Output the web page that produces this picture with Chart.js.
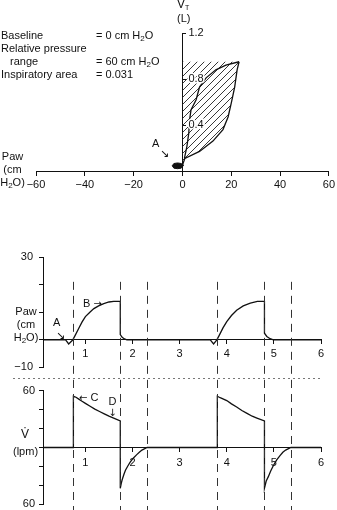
<!DOCTYPE html>
<html>
<head>
<meta charset="utf-8">
<script src="https://cdn.jsdelivr.net/npm/chart.js@4.4.1/dist/chart.umd.min.js"></script>
<style>
  html, body { margin: 0; padding: 0; background: #fff; }
  #fig { position: relative; width: 337px; height: 510px; overflow: hidden;
         font-family: "Liberation Sans", Arial, sans-serif; font-size: 11px; color: #111; }
  #fig canvas { position: absolute; left: 0; }
  .t { position: absolute; white-space: nowrap; line-height: 12px; }
  .t sub { font-size: 8px; vertical-align: -2px; line-height: 0; }
  .stack { text-align: center; line-height: 13px; }
  .ar { font-family: "DejaVu Sans", sans-serif; }
</style>
</head>
<body>
<div id="fig">
  <canvas id="loop" width="337" height="200" style="top:0"></canvas>
  <canvas id="paw" width="337" height="140" style="top:240px"></canvas>
  <canvas id="flow" width="337" height="135" style="top:380px"></canvas>

  <div class="t" style="left:1px;top:29px">Baseline</div>
  <div class="t" style="left:96px;top:29px">= 0 cm H<sub>2</sub>O</div>
  <div class="t" style="left:1px;top:42px">Relative pressure</div>
  <div class="t" style="left:10px;top:55px">range</div>
  <div class="t" style="left:96px;top:55px">= 60 cm H<sub>2</sub>O</div>
  <div class="t" style="left:1px;top:68px">Inspiratory area</div>
  <div class="t" style="left:96px;top:68px">= 0.031</div>

  <div class="t" style="left:177px;top:-2px;font-size:12px">V<sub style="font-size:7px">T</sub></div>
  <div class="t" style="left:177px;top:12px">(L)</div>
  <div class="t stack" style="left:0;top:150px;width:25px">Paw<br>(cm<br>H<sub>2</sub>O)</div>
  <div class="t" style="left:152px;top:137px">A</div>
  <div class="t ar" style="left:160px;top:148px;font-size:11px">&#8600;</div>

  <div class="t stack" style="left:12px;top:305px;width:28px">Paw<br>(cm<br>H<sub>2</sub>O)</div>
  <div class="t" style="left:53px;top:316px">A</div>
  <div class="t ar" style="left:56px;top:330px;font-size:11px">&#8600;</div>
  <div class="t" style="left:83px;top:297px">B <span class="ar" style="font-size:10px">&#8594;</span></div>

  <div class="t" style="left:79px;top:391px"><span class="ar" style="font-size:10px">&#8592;</span> C</div>
  <div class="t stack" style="left:105px;top:396px;width:15px;line-height:11px">D<br><span class="ar" style="font-size:10px">&#8595;</span></div>
  <div class="t" style="left:21px;top:428px;font-size:12px">V&#775;</div>
  <div class="t" style="left:13px;top:445px">(lpm)</div>
</div>

<script>
// P-V loop (top panel)
const pressureTicks = [-60, -40, -20, 0, 20, 40, 60];
const volumeTicks = [0.4, 0.8, 1.2];
const inspPressure = [0, 1, 7, 12.5, 16.6, 18.7, 20, 21.4, 22.4, 23.2];
const inspVolume = [0.05, 0.11, 0.17, 0.26, 0.36, 0.47, 0.59, 0.73, 0.88, 0.95];
const expPressure = [23.2, 17.8, 13.7, 9.7, 7, 5.6, 3.5, 2.9, 2.6, 1.8, 0.8];
const expVolume = [0.95, 0.92, 0.88, 0.81, 0.73, 0.62, 0.53, 0.44, 0.33, 0.21, 0.11];
// small loop at A (upper and lower edge)
const blobPressure = [-4.2, -3.5, -2, -0.5, 0.5];
const blobUpper = [0.045, 0.065, 0.07, 0.065, 0.05];
const blobLower = [0.045, 0.025, 0.02, 0.025, 0.05];

// time traces (bottom panels)
const timeTicks = [1, 2, 3, 4, 5, 6];
const markerTimes = [0.745, 1.74, 2.31, 3.80, 4.80, 5.36];
const pawTicks = [-10, 0, 10, 20, 30];
const pawTime = [0.1, 0.58, 0.645, 0.73, 0.78, 0.86, 0.93, 1.0, 1.1, 1.18, 1.28, 1.39, 1.5, 1.6, 1.74, 1.74, 1.78, 1.83, 1.88,
                 3.65, 3.72, 3.79, 3.84, 3.92, 4.0, 4.1, 4.21, 4.35, 4.5, 4.65, 4.80, 4.80, 4.85, 4.92, 4.99, 6.0];
const pawValue = [0, 0, -1.5, -0.1, 1.5, 4.2, 6.5, 8.4, 10.1, 11.3, 12.3, 13.1, 13.7, 13.9, 13.9, 1.9, 0.9, 0.3, 0,
                  0, -1.5, 0, 1.6, 4.3, 6.6, 8.8, 10.7, 12.3, 13.3, 13.9, 13.9, 2.4, 1.2, 0.4, 0, 0];
const flowTicks = [-60, -40, -20, 0, 20, 40, 60];
const flowTime = [0.1, 0.745, 0.745, 0.8, 0.86, 0.92, 1.0, 1.1, 1.2, 1.3, 1.4, 1.5, 1.6, 1.74, 1.74, 1.76, 1.78, 1.82, 1.85, 1.9,
                  1.95, 2.02, 2.09, 2.15, 2.2, 2.31, 3.80, 3.80, 3.86, 4.0, 4.1, 4.21, 4.32, 4.43, 4.54, 4.64, 4.80, 4.80, 4.84, 4.88,
                  4.93, 4.99, 5.06, 5.13, 5.19, 5.25, 5.36, 6.0];
const flowValue = [0, 0, 54, 53, 51, 49, 46.5, 43.5, 40.5, 38, 35.5, 33, 31, 28, -43, -38, -34, -28, -24, -19.5,
                   -15.5, -11, -7.5, -4.8, -2.7, 0, 0, 54, 52.5, 49.5, 46, 42.7, 39, 36, 33, 31, 28, -43, -35, -31,
                   -25, -19, -13, -8.5, -5, -2.7, 0, 0];

const ink = '#111';
const tickFont = { family: '"Liberation Sans", Arial, sans-serif', size: 11 };

function pts(xs, ys) {
  return xs.map((x, i) => ({ x: x, y: ys[i] }));
}
function minus(v) {
  return v < 0 ? '\u2212' + Math.abs(v) : String(v);
}
function fixedTicks(values) {
  return scale => { scale.ticks = values.map(v => ({ value: v })); };
}

function makeHatch() {
  const c = document.createElement('canvas');
  c.width = 7; c.height = 7;
  const g = c.getContext('2d');
  g.strokeStyle = '#222';
  g.lineWidth = 0.9;
  g.beginPath();
  g.moveTo(0, 7); g.lineTo(7, 0);
  g.moveTo(-1, 1); g.lineTo(1, -1);
  g.moveTo(6, 8); g.lineTo(8, 6);
  g.stroke();
  return g.createPattern(c, 'repeat');
}

// hatched area: from the top of the axis, down the axis, then along the inspiratory limb
const topVolume = inspVolume[inspVolume.length - 1];
const hatchPoints = [{ x: 0, y: topVolume }].concat(pts(inspPressure, inspVolume));

// dashed event lines + dotted separator
const markerLines = {
  id: 'markerLines',
  afterDatasetsDraw(chart, args, opts) {
    const ctx = chart.ctx;
    const x = chart.scales.x;
    const top = opts.from != null ? chart.scales.y.getPixelForValue(opts.from) : 0;
    ctx.save();
    ctx.strokeStyle = '#333';
    ctx.lineWidth = 1;
    ctx.setLineDash([8, 6]);
    markerTimes.forEach(t => {
      const px = Math.round(x.getPixelForValue(t)) + 0.5;
      ctx.beginPath();
      ctx.moveTo(px, top);
      ctx.lineTo(px, chart.height);
      ctx.stroke();
    });
    if (opts.separatorY != null) {
      ctx.strokeStyle = '#777';
      ctx.setLineDash([2, 3]);
      ctx.beginPath();
      ctx.moveTo(13, opts.separatorY + 0.5);
      ctx.lineTo(x.getPixelForValue(6), opts.separatorY + 0.5);
      ctx.stroke();
    }
    ctx.restore();
  }
};

// P-V loop
new Chart(document.getElementById('loop'), {
  type: 'line',
  data: {
    datasets: [
      { data: pts(inspPressure, inspVolume), borderColor: ink, borderWidth: 1.3, pointRadius: 0, fill: false },
      { data: pts(expPressure, expVolume), borderColor: ink, borderWidth: 1.3, pointRadius: 0, fill: false },
      { data: pts(blobPressure, blobUpper), borderColor: ink, borderWidth: 1, backgroundColor: ink,
        pointRadius: 0, fill: '+1', clip: false },
      { data: pts(blobPressure, blobLower), borderColor: ink, borderWidth: 1, pointRadius: 0, fill: false, clip: false },
      { data: hatchPoints, borderWidth: 0, pointRadius: 0, backgroundColor: makeHatch(), fill: 'shape' }
    ]
  },
  options: {
    animation: false,
    responsive: false,
    devicePixelRatio: 1,
    layout: { padding: { left: 36, right: 7, top: 33, bottom: 0 } },
    plugins: { legend: { display: false }, tooltip: { enabled: false } },
    scales: {
      x: {
        type: 'linear', position: 'bottom', min: -60, max: 60,
        afterBuildTicks: fixedTicks(pressureTicks),
        afterFit: s => { s.height = 29; },
        grid: { drawOnChartArea: false, tickLength: 5, color: ink },
        border: { color: ink },
        ticks: { color: ink, font: tickFont, padding: 2, maxRotation: 0, callback: v => minus(v) }
      },
      y: {
        type: 'linear', position: { x: 0 }, min: 0, max: 1.2,
        afterBuildTicks: fixedTicks(volumeTicks),
        afterFit: s => {
          if (s._rightLabels) return;
          s._rightLabels = true;
          const compute = s._computeLabelItems;
          s._computeLabelItems = function (area) {
            const items = compute.call(this, area);
            items.forEach(item => {
              item.options.textAlign = 'left';
              item.options.translation[0] += 6;
            });
            return items;
          };
        },
        grid: { drawOnChartArea: false, tickLength: -4, color: ink },
        border: { color: ink },
        ticks: { color: ink, font: tickFont, z: 1, textStrokeColor: '#fff', textStrokeWidth: 3,
                 callback: v => v.toFixed(1) }
      }
    }
  }
});

// airway pressure
new Chart(document.getElementById('paw'), {
  type: 'line',
  data: {
    datasets: [{ data: pts(pawTime, pawValue), borderColor: ink, borderWidth: 1.3, pointRadius: 0, fill: false }]
  },
  options: {
    animation: false,
    responsive: false,
    devicePixelRatio: 1,
    layout: { padding: { left: 0, right: 16, top: 17, bottom: 10 } },
    plugins: { legend: { display: false }, tooltip: { enabled: false }, markerLines: { from: 21, separatorY: 138 } },
    scales: {
      x: {
        type: 'linear', position: { y: 0 }, min: 0.1, max: 6,
        afterBuildTicks: fixedTicks(timeTicks),
        grid: { drawOnChartArea: false, tickLength: 4, color: ink },
        border: { color: ink },
        ticks: { color: ink, font: tickFont, padding: 4, maxRotation: 0 }
      },
      y: {
        type: 'linear', min: -10, max: 30,
        afterBuildTicks: fixedTicks(pawTicks),
        afterFit: s => { s.width = 43; },
        grid: { drawOnChartArea: false, tickLength: 4, color: ink },
        border: { color: ink },
        ticks: { color: ink, font: tickFont, padding: 6,
                 callback: v => (v === pawTicks[0] || v === pawTicks[pawTicks.length - 1]) ? minus(v) : '' }
      }
    }
  },
  plugins: [markerLines]
});

// flow
new Chart(document.getElementById('flow'), {
  type: 'line',
  data: {
    datasets: [{ data: pts(flowTime, flowValue), borderColor: ink, borderWidth: 1.3, pointRadius: 0, fill: false }]
  },
  options: {
    animation: false,
    responsive: false,
    devicePixelRatio: 1,
    layout: { padding: { left: 0, right: 16, top: 10, bottom: 7 } },
    plugins: { legend: { display: false }, tooltip: { enabled: false }, markerLines: {} },
    scales: {
      x: {
        type: 'linear', position: { y: 0 }, min: 0.1, max: 6,
        afterBuildTicks: fixedTicks(timeTicks),
        grid: { drawOnChartArea: false, tickLength: 4, color: ink },
        border: { color: ink },
        ticks: { color: ink, font: tickFont, padding: 5, maxRotation: 0 }
      },
      y: {
        type: 'linear', min: -60, max: 60,
        afterBuildTicks: fixedTicks(flowTicks),
        afterFit: s => { s.width = 43; },
        grid: { drawOnChartArea: false, tickLength: 4, color: ink },
        border: { color: ink },
        ticks: { color: ink, font: tickFont, padding: 4,
                 callback: v => Math.abs(v) === 60 ? String(Math.abs(v)) : '' }
      }
    }
  },
  plugins: [markerLines]
});
</script>
</body>
</html>
